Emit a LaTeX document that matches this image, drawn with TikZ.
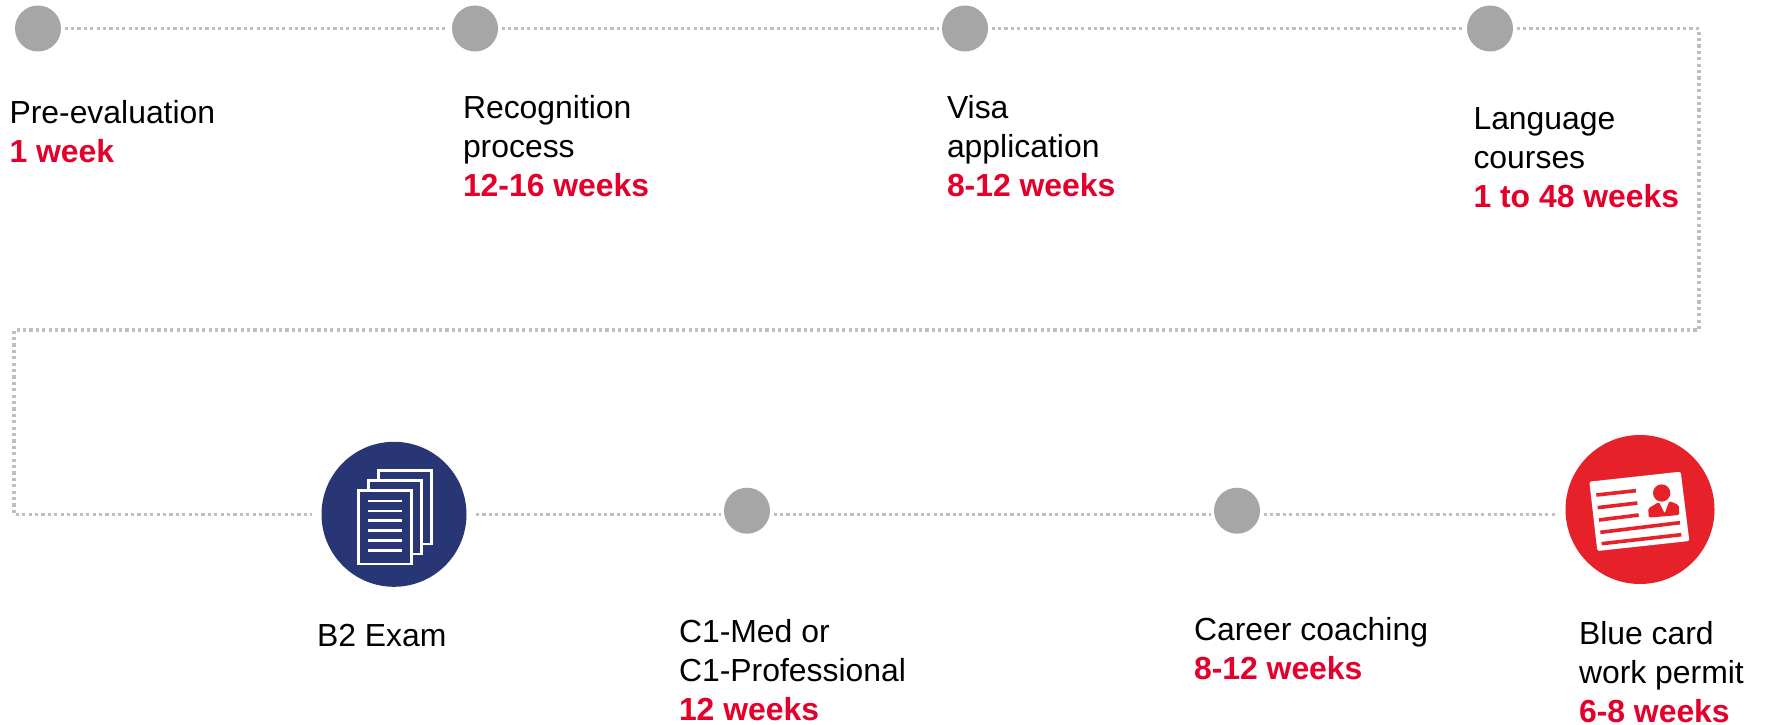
\documentclass[tikz,border=0pt]{standalone}
\usepackage{fontspec}
\setmainfont{Liberation Sans}
\definecolor{dotgray}{HTML}{BFBFBF}
\definecolor{stepgray}{HTML}{A6A6A6}
\definecolor{navyc}{HTML}{293676}
\definecolor{redc}{HTML}{E62129}
\definecolor{redt}{HTML}{E4002B}
\tikzset{
  stepdot/.style={circle,fill=stepgray,draw=none,minimum size=46pt,inner sep=0pt,outer sep=3.5pt},
  navydot/.style={circle,fill=navyc,draw=none,minimum size=145pt,inner sep=0pt,outer sep=9.5pt},
  reddot/.style={circle,fill=redc,draw=none,minimum size=149pt,inner sep=0pt,outer sep=10pt},
  link/.style={draw=dotgray,line width=3.2pt,dash pattern=on 3.2pt off 3.2pt},
  lab/.style={anchor=north west,inner sep=0pt,outer sep=0pt,align=left,text=black,font=\fontsize{31.9pt}{39pt}\selectfont},
  page/.style={draw=white,line width=2.4pt,fill=navyc},
  wline/.style={draw=white,line width=2.4pt},
  rline/.style={draw=redc,line width=3.6pt},
}
\newcommand{\wk}[1]{\textcolor{redt}{\textbf{#1}}}
\newcommand{\st}{\rule{0pt}{25pt}}
\begin{document}
\begin{tikzpicture}[x=1pt,y=-1pt]
\useasboundingbox (0,0) rectangle (1767,725);
\node[stepdot] (g1) at (38,28.5) {};
\node[stepdot] (g2) at (475,28.5) {};
\node[stepdot] (g3) at (965,28.5) {};
\node[stepdot] (g4) at (1490,28.5) {};
\node[navydot] (b2) at (394,514.3) {};
\node[stepdot] (c1) at (747,510.7) {};
\node[stepdot] (c2) at (1237,510.7) {};
\node[reddot] (bc) at (1640,509.5) {};
\coordinate (tr) at (1699,28.5);
\coordinate (br) at (1699,330);
\coordinate (bl) at (14,330);
\coordinate (ml) at (14,514.3);
\path[link] (g1) -- (g2);
\path[link] (g2) -- (g3);
\path[link] (g3) -- (g4);
\path[link] (g4) -- (tr) -- (br) -- (bl) -- (ml) -- (b2);
\path[link] (b2.east) -- (b2.east -| c1.west);
\path[link] (b2.east -| c1.east) -- (b2.east -| c2.west);
\path[link] (b2.east -| c2.east) -- (b2.east -| bc.west);
% document icon
\begin{scope}[shift={(300,430)},x=0.33333pt,y=-0.33333pt]
\draw[page] (235,122) rectangle (395,342);
\draw[page] (205,152) rectangle (365,372);
\draw[page] (175,182) rectangle (335,402);
\foreach \yy in {213,243,272,302,332,361} \draw[wline] (204,\yy) -- (307,\yy);
\end{scope}
% card icon
\begin{scope}[shift={(1550,425)},x=0.33333pt,y=-0.33333pt]
\fill[white,rounded corners=2pt] (118,170) -- (392,140) -- (418,348) -- (142,378) -- cycle;
\draw[rline] (139,210) -- (258,197);
\draw[rline] (143,248) -- (262,234);
\draw[rline] (147,285) -- (266,270);
\draw[rline] (151,322) -- (390,293);
\draw[rline] (155,356) -- (394,329);
\fill[redc] (335,204) circle[radius=26];
\fill[redc,rounded corners=1.5pt] (296,278) -- (295,250) -- (327,231) -- (344,266) -- (358,228) -- (386,240) -- (388,270) -- cycle;
\end{scope}
\node[lab] (t1) at (9.5,123-25) {\st Pre-evaluation\\\wk{1 week}};
\node[lab] (t2) at (463,118-25) {\st Recognition\\process\\\wk{12-16 weeks}};
\node[lab] (t3) at (947,118-25) {\st Visa\\application\\\wk{8-12 weeks}};
\node[lab] (t4) at (1473.5,129-25) {\st Language\\courses\\\wk{1 to 48 weeks}};
\node[lab] (t5) at (317,646-25) {\st B2 Exam};
\node[lab] (t6) at (679,642-25) {\st C1-Med or\\C1-Professional\\\wk{12 weeks}};
\node[lab] (t7) at (1194,640-25) {\st Career coaching\\\wk{8-12 weeks}};
\node[lab] (t8) at (1579,644.5-25) {\st Blue card\\work permit\\\wk{6-8 weeks}};
\end{tikzpicture}
\end{document}
